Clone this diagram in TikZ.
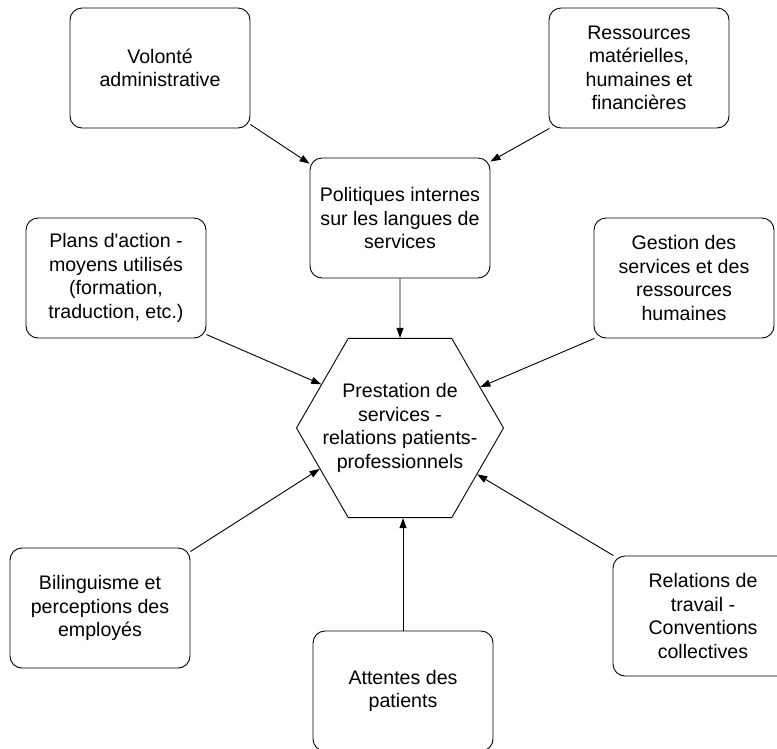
\documentclass[tikz,border=0pt]{standalone}
\usepackage{fontspec}
\setmainfont{Liberation Sans}
\usepackage{tikz}
\usetikzlibrary{positioning,arrows.meta,shapes.geometric}

\begin{document}
\begin{tikzpicture}[
    x=1pt, y=-1pt,
    >={Triangle[length=10pt,width=7pt]},
    every node/.style={font=\fontsize{19.6}{23.5}\selectfont},
    factor/.style={
        draw,
        rounded corners=12pt,
        minimum width=180pt,
        minimum height=120pt,
        inner sep=0pt,
        align=center,
        line width=0.9pt
    },
    core/.style={
        draw,
        regular polygon,
        regular polygon sides=6,
        minimum size=207pt,
        inner sep=-20pt,
        align=center,
        line width=0.9pt
    },
    link/.style={->, line width=0.9pt}
]
\useasboundingbox (0,0) rectangle (777,748);

\node[factor] (vol) at (160,68) {Volont\'e\\administrative};
\node[factor] (res) at (639,68) {Ressources\\mat\'erielles,\\humaines et\\financi\`eres};
\node[factor] (pol) at (400,218) {Politiques internes\\sur les langues de\\services};
\node[factor] (plans) at (116,278) {Plans d\textquotesingle action -\\moyens utilis\'es\\(formation,\\traduction, etc.)};
\node[factor] (gest) at (684,278) {Gestion des\\services et des\\ressources\\humaines};
\node[core] (prest) at (400,428) {Prestation de\\services -\\relations patients-\\professionnels};
\node[factor] (bil) at (100,608) {Bilinguisme et\\perceptions des\\employ\'es};
\node[factor] (att) at (403,691) {Attentes des\\patients};
\node[factor] (rel) at (703,616) {Relations de\\travail -\\Conventions\\collectives};

\draw[link] (vol.-32) -- (pol.149);
\draw[link] (res.214) -- (pol.32);
\draw[link] (pol.south) -- (prest.north);
\draw[link] (plans.-32) -- (prest.151);
\draw[link] (gest.214) -- (prest.27);
\draw[link] (bil.32) -- (prest.207);
\draw[link] (rel.146) -- (prest.329);
\draw[link] (att.north) -- (att.north |- prest.south);

\end{tikzpicture}
\end{document}
